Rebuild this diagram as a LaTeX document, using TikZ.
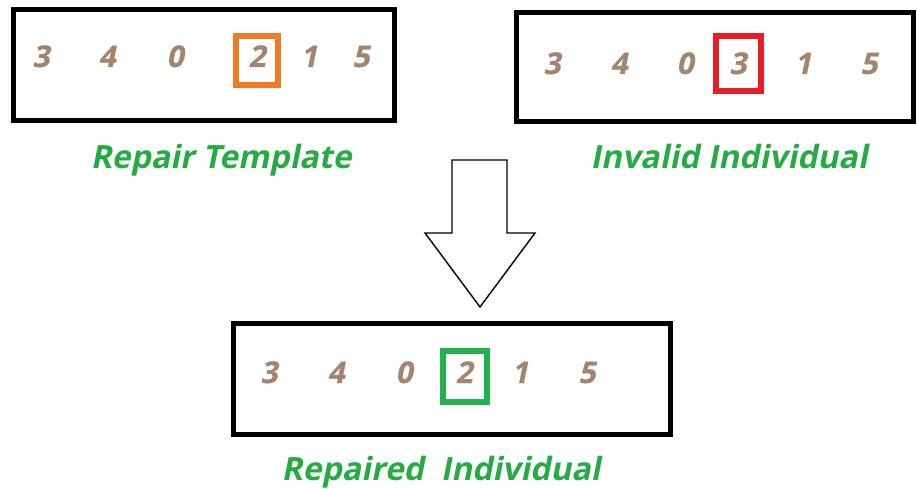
\documentclass[tikz,border=0pt]{standalone}
\usepackage{fontspec}
\setmainfont{Open Sans}
\newfontfamily\slantsans[FakeSlant=0.2]{Open Sans}
\newfontfamily\heavyslant[FakeSlant=0.2,FakeBold=0.6]{Open Sans}
\begin{document}
\definecolor{digitbrown}{RGB}{163,132,110}
\definecolor{labelgreen}{RGB}{36,172,66}
\definecolor{markorange}{RGB}{242,122,36}
\definecolor{markred}{RGB}{232,28,36}
\definecolor{markgreen}{RGB}{34,177,76}
\begin{tikzpicture}[x=1pt,y=-1pt,
  strip/.style={draw=black,line width=5pt,fill=white,inner sep=0pt},
  gene/.style={text=digitbrown,font=\fontsize{30}{30}\selectfont\heavyslant\bfseries,inner sep=0pt,anchor=base},
  mark/.style={draw=#1,line width=6.5pt,inner sep=0pt},
  caption/.style={text=labelgreen,font=\fontsize{32}{32}\selectfont\slantsans\bfseries,inner sep=0pt,anchor=base}]
  \useasboundingbox (0,0) rectangle (917,489);
  \fill[white] (0,0) rectangle (917,489);

  % chromosome strips
  \node[strip,minimum width=381pt,minimum height=111pt] (tpl) at (203.5,65.5) {};
  \node[strip,minimum width=397pt,minimum height=109pt] (inv) at (714.5,67.5) {};
  \node[strip,minimum width=437pt,minimum height=111pt] (rep) at (451.5,378.5) {};

  % highlighted positions
  \node[mark=markorange,minimum width=42pt,minimum height=49pt] (m1) at (257,60.5) {};
  \node[mark=markred,minimum width=45pt,minimum height=55pt] (m2) at (738.5,63.5) {};
  \node[mark=markgreen,minimum width=44pt,minimum height=51pt] (m3) at (465,376.5) {};

  % repair template genes
  \node[gene] (t1) at (41,67) {3};
  \node[gene] (t2) at (107,67) {4};
  \node[gene] (t3) at (175,67) {0};
  \node[gene] (t4) at (257,67) {2};
  \node[gene] (t5) at (309,67) {1};
  \node[gene] (t6) at (361,67) {5};

  % invalid individual genes
  \node[gene] (i1) at (552,74) {3};
  \node[gene] (i2) at (619,74) {4};
  \node[gene] (i3) at (685,74) {0};
  \node[gene] (i4) at (738,74) {3};
  \node[gene] (i5) at (803,74) {1};
  \node[gene] (i6) at (869,74) {5};

  % repaired individual genes
  \node[gene] (r1) at (269,383) {3};
  \node[gene] (r2) at (336,383) {4};
  \node[gene] (r3) at (404,383) {0};
  \node[gene] (r4) at (464,383) {2};
  \node[gene] (r5) at (520,383) {1};
  \node[gene] (r6) at (587,383) {5};

  % captions
  \node[caption] (ctpl) at (221,168) {Repair Template};
  \node[caption] (cinv) at (729,168) {Invalid Individual};
  \node[caption] (crep) at (441,480) {Repaired\ \ Individual};

  % hollow block arrow pointing down
  \draw[line width=1.4pt,fill=white,line join=miter]
    (452,160) -- (507,160) -- (507,233) -- (535,233) -- (480,307)
    -- (425,233) -- (452,233) -- cycle;
\end{tikzpicture}
\end{document}
